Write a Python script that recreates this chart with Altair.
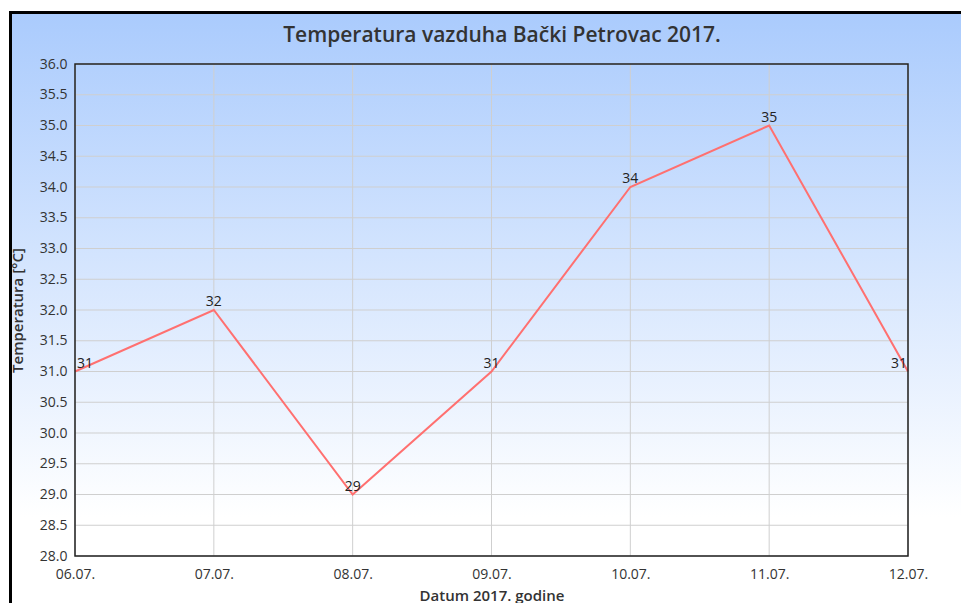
import altair as alt
import pandas as pd

dates = ["06.07.", "07.07.", "08.07.", "09.07.", "10.07.", "11.07.", "12.07."]
temps = [31, 32, 29, 31, 34, 35, 31]
y_ticks = [28.0 + 0.5 * i for i in range(17)]
title_text = "Temperatura vazduha Bački Petrovac 2017."

df = pd.DataFrame({"datum": dates, "temp": temps})
W, H = 833, 492
PL, PT, PR, PB = 67, 56, 53, 47

x_scale = alt.Scale(type="point", padding=0)
y_scale = alt.Scale(domain=[28, 36], nice=False, zero=False)

x_axis = alt.Axis(labelAngle=0, grid=False, ticks=False, domain=False,
                  labelPadding=11, titlePadding=7, zindex=1, labelOverlap=False)
y_axis = alt.Axis(values=y_ticks, format=".1f", grid=False, ticks=False,
                  domain=False, labelPadding=8, titlePadding=14, zindex=1,
                  labelOverlap=False)

x_enc = alt.X("datum:N", sort=dates, scale=x_scale, title="Datum 2017. godine", axis=x_axis)
y_enc = alt.Y("temp:Q", scale=y_scale, title="Temperatura [°C]", axis=y_axis)

gradient = {
    "gradient": "linear", "x1": 0, "y1": 0, "x2": 0, "y2": 1,
    "stops": [{"offset": 0, "color": "#aacbfd"},
              {"offset": 0.85, "color": "#ffffff"},
              {"offset": 1, "color": "#ffffff"}],
}

bg = alt.Chart(pd.DataFrame({"a": [0]})).mark_rect(
    fill=gradient, stroke="#000000", strokeWidth=3
).encode(
    x=alt.value(-64.5), x2=alt.value(W + PR + 3),
    y=alt.value(-51.5), y2=alt.value(H + PB + 3),
)

hgrid = alt.Chart(pd.DataFrame({"temp": y_ticks})).mark_rule(
    color="#cfcfcf", strokeWidth=1
).encode(y=y_enc)

vgrid = alt.Chart(pd.DataFrame({"datum": dates})).mark_rule(
    color="#cfcfcf", strokeWidth=1
).encode(x=x_enc)

line = alt.Chart(df).mark_line(color="#ff7070", strokeWidth=2).encode(
    x=x_enc, y=y_enc
)

txt_mid = alt.Chart(df).transform_filter(
    (alt.datum.datum != dates[0]) & (alt.datum.datum != dates[-1])
).mark_text(align="center", baseline="bottom", dy=-1, fontSize=14,
            font="Open Sans", color="#222222").encode(
    x=x_enc, y=y_enc, text="temp:Q"
)
txt_first = alt.Chart(df).transform_filter(alt.datum.datum == dates[0]).mark_text(
    align="left", baseline="bottom", dx=2, dy=-1, fontSize=14,
    font="Open Sans", color="#222222").encode(
    x=x_enc, y=y_enc, text="temp:Q"
)
txt_last = alt.Chart(df).transform_filter(alt.datum.datum == dates[-1]).mark_text(
    align="right", baseline="bottom", dx=-1, dy=-1, fontSize=14,
    font="Open Sans", color="#222222").encode(
    x=x_enc, y=y_enc, text="temp:Q"
)

frame = alt.Chart(pd.DataFrame({"a": [0]})).mark_rect(
    fill=None, stroke="#222222", strokeWidth=1.5
).encode(
    x=alt.value(0), x2=alt.value(W), y=alt.value(0), y2=alt.value(H)
)

title = alt.Chart(pd.DataFrame({"a": [0]})).mark_text(
    align="center", baseline="middle", font="Open Sans", fontSize=21,
    fontWeight=600, color="#333333"
).encode(
    x=alt.value(427), y=alt.value(-28), text=alt.value(title_text)
)

chart = alt.layer(bg, hgrid, vgrid, line, txt_mid, txt_first, txt_last, frame, title).properties(
    width=W, height=H,
    autosize=alt.AutoSizeParams(type="none"),
    padding={"left": PL, "top": PT, "right": PR, "bottom": PB},
).configure_axis(
    labelFont="Open Sans", labelFontSize=14, labelColor="#333333",
    titleFont="Open Sans", titleFontSize=15, titleFontWeight=600,
    titleColor="#333333",
).configure_view(stroke=None)

chart.save("out.html", embed_options={"renderer": "svg", "actions": False})
